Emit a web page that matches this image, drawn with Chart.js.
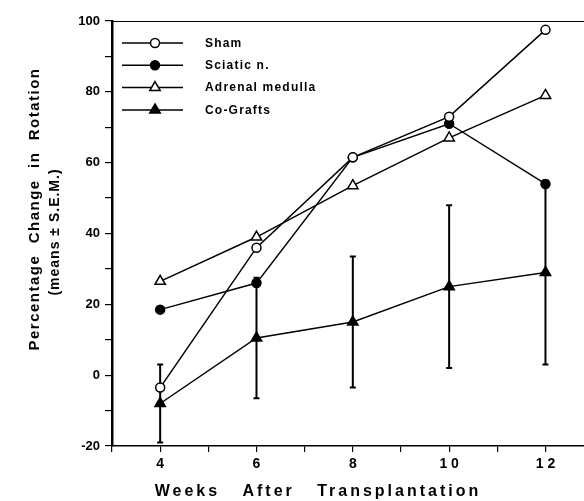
<!DOCTYPE html>
<html lang="en">
<head>
  <meta charset="UTF-8"/>
  <title>Percentage Change in Rotation</title>
  <script src="https://cdn.jsdelivr.net/npm/chart.js"></script>
  <style>
    html, body { margin: 0; padding: 0; background: #fff; overflow: hidden; }
    canvas { display: block; }
  </style>
</head>
<body>
  <canvas id="rotChart" width="584" height="501"></canvas>
  <script>
    // weeks after transplantation + labels as printed
    const weeks = [4, 6, 8, 10, 12];
    const weekLabels = ["4", "6", "8", "1 0", "1 2"];
    const xTickValues = [3, 4, 5, 6, 7, 8, 9, 10, 11, 12];
    const yTickValues = [-20, -10, 0, 10, 20, 30, 40, 50, 60, 70, 80, 90, 100];
    const yLabelValues = [-20, 0, 20, 40, 60, 80, 100];

    const sham     = [-3.5, 36, 61.5, 73, 97.5];
    const sciatic  = [18.5, 26, 61.5, 71, 54];
    const adrenal  = [26.5, 39, 53.5, 67, 79];
    const coGrafts = [-8, 10.5, 15, 25, 29];
    const coGraftsSem = [11, 17, 18.5, 23, 26];

    const FONT = '"Liberation Sans", Arial, sans-serif';
    const pts = arr => arr.map((v, i) => ({ x: weeks[i], y: v }));

    const series = [
      { label: "Sham", data: sham, style: "circle", fill: "#fff", r: 4.5 },
      { label: "Sciatic n.", data: sciatic, style: "circle", fill: "#000", r: 4.5 },
      { label: "Adrenal medulla", data: adrenal, style: "triangle", fill: "#fff", r: 6 },
      { label: "Co-Grafts", data: coGrafts, style: "triangle", fill: "#000", r: 6 }
    ];

    // error bars (co-grafts SEM), drawn under the markers
    const errorBars = {
      id: "errorBars",
      beforeDatasetsDraw(chart) {
        const { ctx, scales: { x, y } } = chart;
        ctx.save();
        ctx.strokeStyle = "#000";
        ctx.lineWidth = 2;
        coGrafts.forEach((v, i) => {
          const px = x.getPixelForValue(weeks[i]);
          const top = y.getPixelForValue(v + coGraftsSem[i]);
          const bot = y.getPixelForValue(v - coGraftsSem[i]);
          ctx.beginPath();
          ctx.moveTo(px, top); ctx.lineTo(px, bot);
          ctx.moveTo(px - 3, top); ctx.lineTo(px + 3, top);
          ctx.moveTo(px - 3, bot); ctx.lineTo(px + 3, bot);
          ctx.stroke();
        });
        ctx.restore();
      }
    };

    // titles, legend and top frame line
    const decorations = {
      id: "decorations",
      afterDraw(chart) {
        const { ctx, chartArea: a } = chart;
        ctx.save();
        ctx.strokeStyle = "#000";
        ctx.lineWidth = 1;
        ctx.beginPath();
        ctx.moveTo(a.left, a.top + 0.5);
        ctx.lineTo(a.right, a.top + 0.5);
        ctx.stroke();

        ctx.fillStyle = "#000";
        ctx.textAlign = "center";
        ctx.textBaseline = "middle";

        ctx.font = "bold 16px " + FONT;
        ctx.letterSpacing = "3px";
        ctx.fillText("Weeks   After   Transplantation", 318, 492);

        ctx.save();
        ctx.translate(35, 209);
        ctx.rotate(-Math.PI / 2);
        ctx.font = "bold 15px " + FONT;
        ctx.letterSpacing = "1.5px";
        ctx.fillText("Percentage  Change  in  Rotation", 0, 0);
        ctx.restore();

        ctx.save();
        ctx.translate(55, 232);
        ctx.rotate(-Math.PI / 2);
        ctx.font = "bold 14px " + FONT;
        ctx.letterSpacing = "1px";
        ctx.fillText("(means \u00b1 S.E.M.)", 0, 0);
        ctx.restore();

        // legend
        ctx.font = "bold 12px " + FONT;
        ctx.letterSpacing = "1.2px";
        ctx.textAlign = "left";
        series.forEach((s, i) => {
          const yy = 43 + i * 22.3;
          ctx.lineWidth = 1.5;
          ctx.beginPath();
          ctx.moveTo(122, yy); ctx.lineTo(183, yy);
          ctx.stroke();
          ctx.fillStyle = s.fill;
          ctx.beginPath();
          if (s.style === "circle") {
            ctx.arc(155, yy, s.r, 0, Math.PI * 2);
          } else {
            const r = s.r;
            ctx.moveTo(155, yy - r);
            ctx.lineTo(155 + r * 0.87, yy + r * 0.5);
            ctx.lineTo(155 - r * 0.87, yy + r * 0.5);
            ctx.closePath();
          }
          ctx.fill();
          ctx.stroke();
          ctx.fillStyle = "#000";
          ctx.fillText(s.label, 205, yy + 0.5);
        });
        ctx.restore();
      }
    };

    new Chart(document.getElementById("rotChart"), {
      type: "line",
      data: {
        datasets: series.map(s => ({
          label: s.label,
          data: pts(s.data),
          borderColor: "#000",
          borderWidth: 1.5,
          backgroundColor: s.fill,
          pointStyle: s.style,
          pointRadius: s.r,
          pointBorderWidth: 1.5,
          pointBorderColor: "#000",
          pointBackgroundColor: s.fill,
          tension: 0
        }))
      },
      options: {
        responsive: false,
        animation: false,
        layout: { autoPadding: false, padding: { top: 21, left: 0, right: 0, bottom: 0 } },
        plugins: {
          legend: { display: false },
          tooltip: { enabled: false }
        },
        scales: {
          x: {
            type: "linear",
            min: 3,
            max: 12.8,
            afterBuildTicks: s => { s.ticks = xTickValues.map(v => ({ value: v })); },
            afterFit: s => { s.height = 55; },
            ticks: {
              autoSkip: false,
              maxRotation: 0,
              color: "#000",
              padding: 4,
              font: { family: FONT, size: 14, weight: "bold" },
              callback: v => {
                const i = weeks.indexOf(v);
                return i >= 0 ? weekLabels[i] : "";
              }
            },
            grid: { drawOnChartArea: false, drawTicks: true, tickLength: 6, color: "#000", lineWidth: 1.2 },
            border: { color: "#000", width: 1.5 }
          },
          y: {
            min: -20,
            max: 100,
            afterBuildTicks: s => { s.ticks = yTickValues.map(v => ({ value: v })); },
            afterFit: s => { s.width = 112; },
            ticks: {
              autoSkip: false,
              color: "#000",
              padding: 5,
              font: { family: FONT, size: 13, weight: "bold" },
              callback: v => yLabelValues.includes(v) ? String(v) : ""
            },
            grid: { drawOnChartArea: false, drawTicks: true, tickLength: 7, color: "#000", lineWidth: 1.2 },
            border: { color: "#000", width: 2.5 }
          }
        }
      },
      plugins: [errorBars, decorations]
    });
  </script>
</body>
</html>
